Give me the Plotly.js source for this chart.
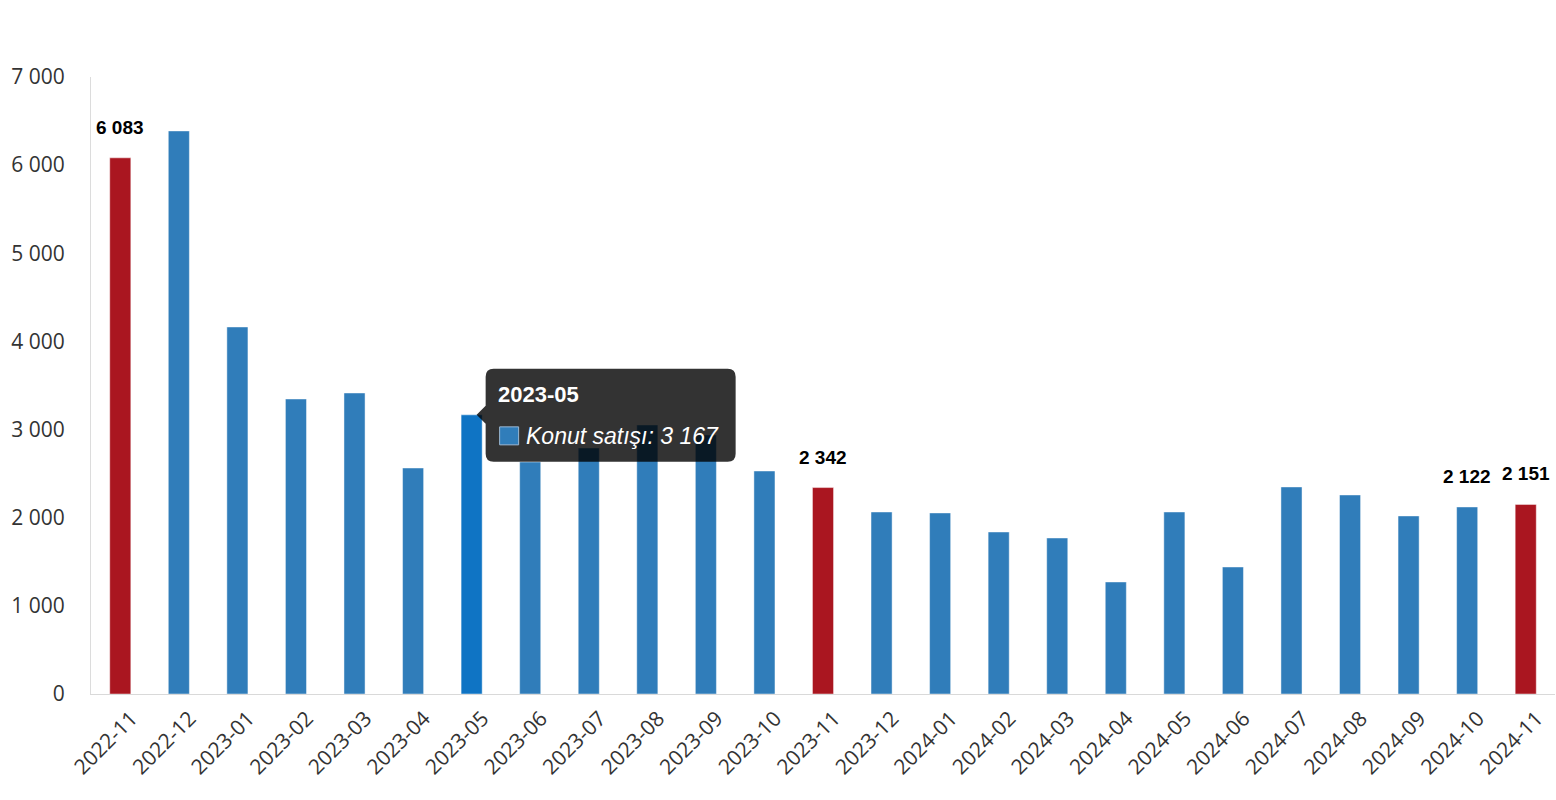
<!DOCTYPE html>
<html>
<head>
<meta charset="utf-8">
<script src="https://cdn.plot.ly/plotly-3.0.1.min.js"></script>
<style>
  html, body { margin: 0; padding: 0; background: #fff; }
  #chart { width: 1556px; height: 800px; }
</style>
</head>
<body>
<div id="chart"></div>
<script>
// Monthly housing sales (Konut satışı)
var categories = ['2022-11', '2022-12', '2023-01', '2023-02', '2023-03', '2023-04', '2023-05',
  '2023-06', '2023-07', '2023-08', '2023-09', '2023-10', '2023-11', '2023-12', '2024-01',
  '2024-02', '2024-03', '2024-04', '2024-05', '2024-06', '2024-07', '2024-08', '2024-09',
  '2024-10', '2024-11'];
var sales = [6083, 6388, 4164, 3347, 3415, 2564, 3167, 2632, 2791, 3052, 2938, 2530, 2342,
  2065, 2054, 1838, 1770, 1271, 2065, 1441, 2349, 2258, 2020, 2122, 2151];
var seriesName = 'Konut satışı';
var redMonths = ['2022-11', '2023-11', '2024-11'];
var labelledMonths = ['2022-11', '2023-11', '2024-10', '2024-11'];
var hoverMonth = '2023-05';

function fmt(n) {
  return String(n).replace(/\B(?=(\d{3})+(?!\d))/g, ' ');
}

var colors = categories.map(function (c) {
  if (redMonths.indexOf(c) >= 0) return '#aa1620';
  if (c === hoverMonth) return '#0f74c4';
  return '#307dba';
});

var data = [{
  type: 'bar',
  x: categories,
  y: sales,
  name: seriesName,
  marker: {
    color: colors,
    line: { color: 'rgba(255,255,255,0.45)', width: 1 }
  },
  hoverinfo: 'skip'
}];

// value labels above selected bars
var annotations = labelledMonths.map(function (c) {
  var i = categories.indexOf(c);
  return {
    x: c, y: sales[i], xref: 'x', yref: 'y',
    text: '<b>' + fmt(sales[i]) + '</b>',
    showarrow: false, yanchor: 'bottom', yshift: 18,
    font: { family: 'Liberation Sans, Arial, sans-serif', size: 19, color: '#000' }
  };
});

// tooltip imitation for the hovered month
var h = categories.indexOf(hoverMonth);
var tipPath = 'M 22,46 L 256,46 Q 264,46 264,38 L 264,-39 Q 264,-47 256,-47 L 22,-47 ' +
  'Q 14,-47 14,-39 L 14,-9 L 5,0 L 14,9 L 14,38 Q 14,46 22,46 Z';
var shapes = [{
  type: 'path', xref: 'x', yref: 'y',
  xsizemode: 'pixel', ysizemode: 'pixel',
  xanchor: hoverMonth, yanchor: sales[h],
  path: tipPath,
  fillcolor: 'rgba(0,0,0,0.8)', line: { width: 0 }
}, {
  type: 'rect', xref: 'x', yref: 'y',
  xsizemode: 'pixel', ysizemode: 'pixel',
  xanchor: hoverMonth, yanchor: sales[h],
  x0: 28, x1: 47, y0: -12, y1: -30,
  fillcolor: '#307dba', line: { color: '#9bb8d3', width: 1 }
}];
annotations.push({
  x: hoverMonth, y: sales[h], xref: 'x', yref: 'y',
  text: '<b>' + hoverMonth + '</b>',
  showarrow: false, xanchor: 'left', yanchor: 'middle', xshift: 24, yshift: 20,
  font: { family: 'Liberation Sans, Arial, sans-serif', size: 22, color: '#fff' }
});
annotations.push({
  x: hoverMonth, y: sales[h], xref: 'x', yref: 'y',
  text: '<i>' + seriesName + ': ' + fmt(sales[h]) + '</i>',
  showarrow: false, xanchor: 'left', yanchor: 'middle', xshift: 52, yshift: -21,
  font: { family: 'Liberation Sans, Arial, sans-serif', size: 23, color: '#fff' }
});

var layout = {
  width: 1556,
  height: 800,
  margin: { l: 91, r: 1, t: 77, b: 106 },
  paper_bgcolor: '#fff',
  plot_bgcolor: '#fff',
  separators: ', ',
  showlegend: false,
  hovermode: false,
  bargap: 0.64,
  xaxis: {
    type: 'category',
    tickangle: -45,
    tickfont: { family: 'Open Sans, sans-serif', size: 21, color: '#333' },
    showline: true,
    linecolor: '#d9d9d9',
    linewidth: 1,
    showgrid: false,
    ticks: '',
    ticklabelstandoff: 3,
    ticklabelshift: 11
  },
  yaxis: {
    range: [0, 7000],
    dtick: 1000,
    tickformat: ',d',
    tickfont: { family: 'Open Sans, sans-serif', size: 21, color: '#333' },
    showline: true,
    linecolor: '#dcdcdc',
    linewidth: 1,
    showgrid: false,
    zeroline: false,
    ticks: '',
    ticklabelstandoff: 21
  },
  shapes: shapes,
  annotations: annotations
};

Plotly.newPlot('chart', data, layout, { displayModeBar: false, staticPlot: true });
</script>
</body>
</html>
